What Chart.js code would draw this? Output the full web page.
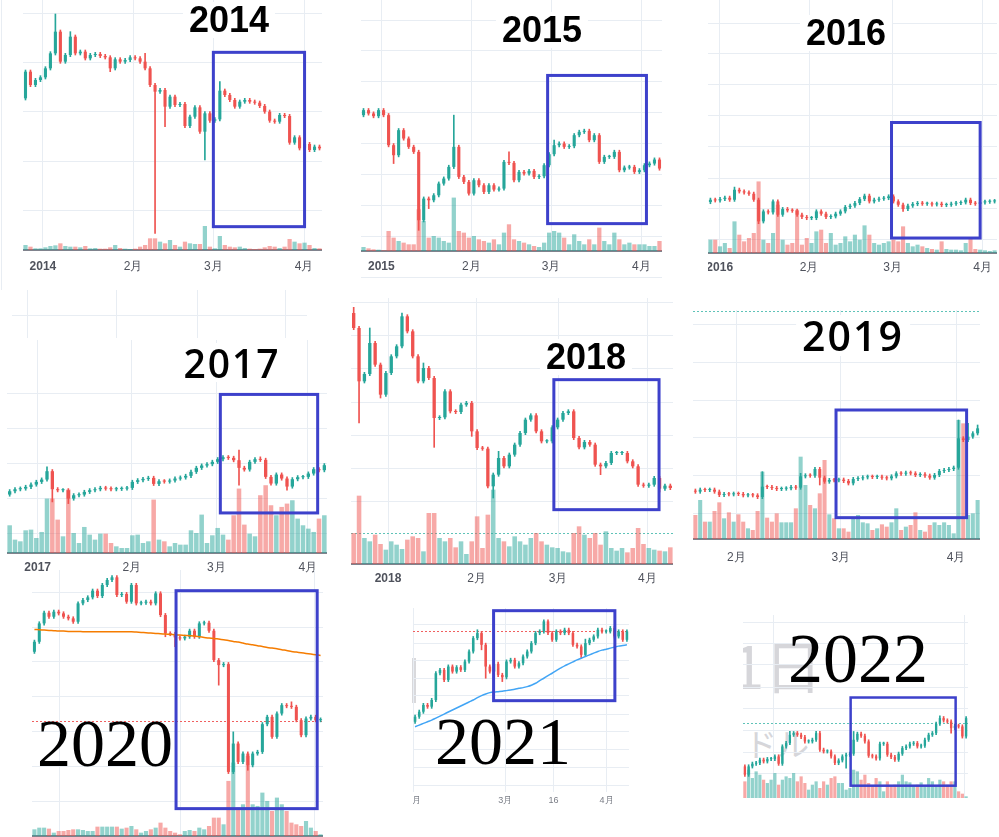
<!DOCTYPE html>
<html>
<head>
<meta charset="utf-8">
<script src="https://cdn.jsdelivr.net/npm/chart.js"></script>
<style>
html, body { margin: 0; padding: 0; background: #fff; }
body { position: relative; width: 999px; height: 837px; overflow: hidden; }
canvas { position: absolute; }
.ttl { position: absolute; white-space: nowrap; transform: translateX(-50%); color: #000; }
.sans { font: bold 36px/1 "Liberation Sans", Arial, sans-serif; background: #fff; padding: 0 6px; }
.round { font: 600 39px/1 "Open Sans", sans-serif; letter-spacing: 2px; background: #fff; padding: 0 6px; }
.serif { font: 68px/1 "Liberation Serif", serif; }
.clip { position: absolute; overflow: hidden; }
.wm { position: absolute; white-space: nowrap; line-height: 1; font-family: "Noto Sans CJK JP", sans-serif; color: #d6d6da; }
.ln { position: absolute; background: #e8edf3; }
</style>
</head>
<body>
<div class="ln" style="left:1px;top:0px;width:1px;height:290px"></div>
<div class="ln" style="left:361px;top:277px;width:301px;height:1px"></div>
<div class="ln" style="left:12px;top:315px;width:295px;height:1px"></div>
<div class="ln" style="left:27px;top:290px;width:1px;height:48px"></div>
<div class="ln" style="left:116px;top:290px;width:1px;height:48px"></div>
<div class="ln" style="left:197px;top:290px;width:1px;height:48px"></div>
<div class="ln" style="left:285px;top:290px;width:1px;height:48px"></div>
<div class="clip" style="left:743px;top:615px;width:225px;height:183px">
  <div class="wm" style="left:-11px;top:20px;font-size:58px">1日</div>
  <div class="wm" style="left:2px;top:111px;font-size:32px">ドル</div>
</div>
<div style="position:absolute;left:412px;top:658px;width:4px;height:45px;background:#d9d9dc"></div>
<script>
// ---- 2014 ----
const open14 = 505;
const close14 = [585,545,560,568,595,640,705,615,635,690,640,645,625,635,638,632,628,595,622,615,
  620,628,625,615,595,545,525,530,480,510,485,488,422,450,478,405,460,438,442,528,
  515,500,480,495,500,495,492,482,465,438,435,455,452,372,388,355,368,350,360,355];
const vol14 = [15,10,5,5,8,12,14,20,12,10,10,8,12,5,6,4,4,8,15,6,
  4,3,4,10,15,35,35,25,20,30,15,10,25,20,18,18,72,10,5,42,
  15,10,8,10,6,4,3,4,8,12,10,6,10,33,25,20,22,15,6,5];
const hi14 = [[6,758],[9,705],[24,640],[39,555]];
const lo14 = [[26,100],[36,320],[28,420],[17,585]];
const grid14 = [760,613,465,317,168];
const months14 = ['2014','2月','3月','4月'];
const monthAt14 = [3.5,21.6,37.7,55.9];
const box14 = [37.7,56.0,643,120];

// ---- 2015 ----
const open15 = 455;
const close15 = [470,460,452,470,455,365,335,410,385,360,345,140,205,200,215,250,265,300,360,270,
  255,220,260,245,225,245,232,235,315,312,260,285,280,288,270,272,305,338,365,370,
  360,362,395,405,408,380,395,315,330,330,345,290,298,300,285,290,305,310,322,295];
const vol15 = [12,8,5,4,2,60,40,30,25,20,20,125,90,40,45,40,30,25,160,60,
  55,40,45,35,30,25,35,20,55,80,35,30,25,20,15,12,25,55,60,55,
  40,20,50,30,20,35,20,70,30,20,55,35,20,25,20,20,20,15,15,30];
const hi15 = [[18,455],[29,345],[38,380]];
const lo15 = [[11,110],[12,170],[6,310],[13,175]];
const grid15 = [740,648,555,462,370,278,185,92];
const months15 = ['2015','2月','3月','4月'];
const monthAt15 = [3.55,21.5,37.4,55.4];
const box15 = [36.7,56.4,574,130];

// ---- 2016 ----
const open16 = 193;
const close16 = [200,198,202,206,200,230,225,222,218,200,135,165,162,195,155,172,168,167,155,148,
  145,145,165,158,148,150,158,165,178,182,190,202,212,195,200,203,205,210,195,185,
  172,182,187,190,188,188,186,188,184,185,188,190,192,200,190,188,192,194,195,196];
const vol16 = [40,40,20,30,15,95,55,35,45,60,215,40,30,60,145,40,25,30,130,25,
  45,30,65,70,30,60,25,30,50,35,55,40,83,55,30,25,30,35,40,35,
  80,30,20,25,20,15,12,10,35,12,10,10,8,30,45,12,10,8,6,8];
const hi16 = [[5,238],[9,205]];
const lo16 = [[10,128],[40,165],[14,150]];
const grid16 = [730,638,545,452,360,265,175,82];
const months16 = ['2016','2月','3月','4月'];
const monthAt16 = [1.93,20.5,37.8,56.5];
const box16 = [37.6,56.0,432,85];

// ---- 2017 ----
const open17 = 272;
const close17 = [282,288,290,295,302,310,317,342,288,285,285,260,270,272,280,285,288,292,290,288,
  289,290,292,310,315,319,322,304,312,311,314,320,323,328,340,352,359,363,370,378,
  384,382,375,352,347,370,378,376,325,305,332,320,296,318,324,325,335,348,345,360];
const vol17 = [83,40,35,68,70,45,63,163,163,100,50,190,60,30,78,55,40,58,58,30,
  20,15,15,53,55,30,35,160,40,35,20,30,25,25,68,60,115,30,53,75,
  55,40,113,193,85,58,50,173,203,143,113,138,148,158,103,83,73,63,103,113];
const hi17 = [[7,355],[43,405],[47,385]];
const lo17 = [[8,250],[11,245],[43,300],[52,285]];
const grid17 = [575,470,365,260,155];
const months17 = ['2017','2月','3月','4月'];
const monthAt17 = [5.25,22.9,38.75,55.9];
const box17 = [39.5,57.75,572,217];

// ---- 2018 ----
const open18 = 815;
const close18 = [770,610,632,725,660,570,635,685,715,805,760,685,610,650,620,500,502,580,520,518,
  540,545,460,410,408,295,330,380,355,390,420,455,495,508,460,430,430,472,495,515,
  520,440,412,428,420,360,355,365,395,395,395,370,355,300,297,300,320,288,297,290];
const vol18 = [93,205,78,68,88,60,43,68,58,45,73,83,78,38,153,153,78,68,78,50,
  68,30,68,143,48,148,223,78,68,53,83,68,58,78,93,68,58,50,48,38,
  35,93,113,88,78,93,58,98,48,40,48,35,48,108,60,48,43,40,38,50];
const hi18 = [[0,832],[3,770],[9,815],[27,400],[13,665]];
const lo18 = [[1,485],[5,560],[15,412],[26,260],[22,445],[46,330],[57,278]];
const grid18 = [848,748,648,548,448,350,250];
const months18 = ['2018','2月','3月','4月'];
const monthAt18 = [6.4,22.9,38.1,54.7];
const box18 = [37.3,56.9,615,225];
const level18 = 155;

// ---- 2019 ----
const open19 = 283;
const close19 = [280,286,285,286,280,270,273,272,274,273,269,270,269,264,295,294,291,288,289,290,
  294,292,326,329,328,348,322,310,315,314,316,312,305,318,320,323,325,324,325,322,
  320,326,335,334,337,335,330,332,328,322,330,342,345,348,352,440,435,445,455,470];
const vol19 = [72,117,52,52,84,110,62,80,52,74,52,32,27,84,202,64,52,77,50,50,
  50,92,247,162,102,92,137,237,74,62,32,32,22,62,72,50,47,27,32,44,
  37,50,92,27,37,42,80,27,22,42,50,42,50,42,17,357,347,72,77,117];
const hi19 = [[14,340],[55,495],[57,485],[59,480],[22,335]];
const lo19 = [[26,300]];
const grid19 = [782,668,555,442,328,215];
const months19 = ['2月','3月','4月'];
const monthAt19 = [8.57,30.4,54.5];
const box19 = [29.4,56.7,525,202];
const level19 = 822;

// ---- 2020 ----
const open20 = 655;
const close20 = [685,740,772,760,775,770,760,755,745,800,810,818,838,822,855,870,878,825,828,805,
  855,800,802,805,800,830,765,710,708,698,695,700,718,700,740,742,718,630,615,618,
  295,380,325,350,315,350,355,438,460,400,470,495,492,490,450,405,455,460,450,452];
const vol20 = [20,25,25,22,10,15,15,18,20,20,18,15,15,28,28,28,28,28,22,25,
  30,20,10,15,20,25,40,25,15,10,5,15,18,15,25,20,30,55,55,35,
  165,220,85,95,240,95,90,130,105,75,115,95,75,40,35,30,45,25,15,5];
const ma20 = [722,721,720,719,718,717,717,716,716,716,715,715,715,715,715,715,715,715,715,715,
  715,714,713,712,711,710,709,708,707,706,705,704,703,702,700,698,696,695,693,691,
  689,686,684,681,678,676,673,671,668,666,664,661,659,656,654,652,650,648,646,644];
const hi20 = [[17,845],[26,780],[41,415],[48,465],[53,505]];
const lo20 = [[0,650],[27,700],[29,670],[38,555],[44,300]];
const grid20 = [832,728,625,520,415,310,205];
const months20 = ['2月','3月','4月'];
const monthAt20 = [5.2,30.2,57.8];
const box20 = [29.2,58.3,838,185];
const level20 = 448;

// ---- 2021 ----
const open21 = 305;
const close21 = [320,335,355,350,370,450,460,430,470,455,468,460,485,515,555,570,535,470,455,478,
  445,438,485,490,470,480,500,515,540,570,575,605,570,550,575,570,580,570,535,530,
  505,540,550,560,580,575,575,585,560,575,550,575];
const ma21 = [290,295,300,305,310,316,322,328,334,340,346,352,358,364,370,377,383,388,392,394,
  395,396,398,400,402,405,407,410,414,420,428,435,443,450,458,465,472,478,484,490,
  495,500,505,510,515,519,522,525,528,531,533,535];
const hi21 = [[15,580],[41,552]];
const lo21 = [[17,435],[21,425],[16,520],[40,495]];
const grid21 = [595,540,487,435,382,328,275,222,168,115];
const months21 = ['2月','3月','16','4月'];
const monthAt21 = [-0.34,21.7,33.3,46.1];
const box21 = [18.9,48.1,637,368];
const level21 = 575;

// ---- 2022 ----
const open22 = 200;
const close22 = [175,200,208,210,220,215,222,222,230,208,260,270,295,300,295,288,275,275,280,300,
  250,245,245,230,210,218,230,235,238,280,298,292,275,232,230,224,268,268,235,228,
  220,238,255,260,268,270,260,262,280,295,300,328,345,338,335,315,322,320,290,345];
const vol22 = [50,85,60,80,70,55,45,55,75,40,55,65,60,75,50,65,45,25,40,50,
  30,50,40,60,65,45,45,25,30,85,80,55,70,45,35,60,50,20,50,35,
  40,50,70,50,47,35,40,47,35,60,50,35,55,50,40,50,50,20,13,5];
const hi22 = [[12,305],[29,305],[52,352]];
const lo22 = [[1,180],[27,195],[55,300]];
const grid22 = [632,570,505,438,375,307,242,178];
const months22 = ['',''];
const monthAt22 = [7.5,58.6];
const box22 = [28.2,56.2,407,142];
const level22 = 330;

const UP = '#26a69a', DOWN = '#ef5350';
const UP_V = 'rgba(38,166,154,0.5)', DOWN_V = 'rgba(239,83,80,0.5)';
const GRID = '#e8edf3';
const BOX = '#3d41cb';

function candles(close, open0, hi, lo, pad) {
    const hiMap = new Map(hi), loMap = new Map(lo);
    return close.map((c, i) => {
        const o = i === 0 ? open0 : close[i - 1];
        const top = Math.max(o, c), bot = Math.min(o, c);
        return {
            i, top, bot, up: c >= o,
            h: Math.max(top + pad, hiMap.has(i) ? hiMap.get(i) : 0),
            l: Math.min(bot - pad, loMap.has(i) ? loMap.get(i) : Infinity)
        };
    });
}

function panel(p) {
    const cv = document.createElement('canvas');
    cv.width = p.w;
    cv.height = p.h + p.axisH;
    cv.style.left = p.left + 'px';
    cv.style.top = p.top + 'px';
    document.body.appendChild(cv);

    const k = candles(p.close, p.open, p.hi, p.lo, p.pad || 5);
    const n = p.close.length;
    const datasets = [{
        data: k.map(d => ({ x: d.i, y: [d.bot, d.top] })),
        backgroundColor: k.map(d => d.up ? UP : DOWN),
        barPercentage: 0.62, categoryPercentage: 1, grouped: false,
        minBarLength: 1, order: 1, yAxisID: 'y'
    }, {
        data: k.map(d => ({ x: d.i, y: [d.l, d.h] })),
        backgroundColor: k.map(d => d.up ? UP : DOWN),
        barThickness: 1, grouped: false, order: 2, yAxisID: 'y'
    }];
    if (p.vol) {
        datasets.push({
            data: p.vol.map((v, i) => ({ x: i, y: v })),
            backgroundColor: k.map(d => d.up ? UP_V : DOWN_V),
            barPercentage: 0.85, categoryPercentage: 1, grouped: false,
            order: 5, yAxisID: 'v'
        });
    }
    if (p.ma) {
        datasets.push({
            type: 'line',
            data: p.ma.map((v, i) => ({ x: i, y: v })),
            borderColor: p.maColor, borderWidth: 1.5, pointRadius: 0,
            tension: 0.3, order: 0, yAxisID: 'y'
        });
    }

    const overlay = {
        id: 'overlay',
        beforeDatasetsDraw(chart) {
            if (p.level === undefined) return;
            const { ctx, chartArea: a, scales } = chart;
            const y = Math.round(scales.y.getPixelForValue(p.level)) + 0.5;
            ctx.save();
            ctx.strokeStyle = p.levelColor;
            ctx.lineWidth = 1;
            ctx.setLineDash([2, 2]);
            ctx.beginPath();
            ctx.moveTo(a.left, y);
            ctx.lineTo(a.right, y);
            ctx.stroke();
            ctx.restore();
        },
        afterDatasetsDraw(chart) {
            const { ctx, scales } = chart;
            const [x0, x1, yTop, yBot] = p.box;
            const l = scales.x.getPixelForValue(x0), r = scales.x.getPixelForValue(x1);
            const t = scales.y.getPixelForValue(yTop), b = scales.y.getPixelForValue(yBot);
            ctx.save();
            ctx.strokeStyle = BOX;
            ctx.lineWidth = p.boxW || 3;
            ctx.strokeRect(l, t, r - l, b - t);
            ctx.restore();
        }
    };

    new Chart(cv, {
        type: 'bar',
        data: { datasets },
        plugins: [overlay],
        options: {
            responsive: false,
            animation: false,
            events: [],
            layout: { padding: 0 },
            plugins: { legend: { display: false }, tooltip: { enabled: false } },
            scales: {
                x: {
                    type: 'linear', min: -0.5, max: n - 0.5, offset: false,
                    afterBuildTicks: s => { s.ticks = p.monthAt.map((v, j) => ({ value: v, major: j === 0 && !!p.yearFirst })); },
                    afterFit: s => { s.height = p.axisH; s.paddingLeft = 0; s.paddingRight = 0; },
                    grid: { color: GRID, drawTicks: false, offset: false },
                    border: { display: p.border !== false, color: '#80838d', width: 2 },
                    ticks: {
                        display: p.showLabels !== false,
                        autoSkip: false, maxRotation: 0, padding: p.lblPad || 7,
                        color: p.lblColor || '#4f525c',
                        callback: (v, j) => p.months[j],
                        font: c => ({
                            family: '"Liberation Sans", Arial, sans-serif',
                            size: p.lblSize || 12,
                            weight: c.tick && c.tick.major ? 'bold' : 'normal'
                        })
                    }
                },
                y: {
                    axis: 'y', position: 'left',
                    min: p.yMin, max: p.yMax,
                    afterBuildTicks: s => { s.ticks = p.grid.map(v => ({ value: v })); },
                    afterFit: s => { s.width = 0; },
                    ticks: { display: false },
                    grid: { color: GRID, drawTicks: false },
                    border: { display: false }
                },
                v: { axis: 'y', position: 'right', display: false, min: 0, max: p.volMax || 1 }
            }
        }
    });
}

[
    { left: 23, top: 0, w: 299, h: 250, axisH: 30, lblPad: 9, open: open14, close: close14, vol: vol14, hi: hi14, lo: lo14,
      yMin: 50, yMax: 800, grid: grid14, volMax: 750, months: months14, monthAt: monthAt14, yearFirst: true, box: box14 },
    { left: 361, top: 0, w: 301, h: 251, axisH: 30, lblPad: 8, open: open15, close: close15, vol: vol15, hi: hi15, lo: lo15,
      yMin: 48, yMax: 800, grid: grid15, volMax: 752, months: months15, monthAt: monthAt15, yearFirst: true, box: box15 },
    { left: 708, top: 0, w: 289, h: 253, axisH: 30, lblPad: 7, open: open16, close: close16, vol: vol16, hi: hi16, lo: lo16,
      yMin: 40, yMax: 800, grid: grid16, volMax: 760, months: months16, monthAt: monthAt16, yearFirst: true, box: box16 },
    { left: 7, top: 340, w: 320, h: 213, axisH: 28, lblPad: 7, open: open17, close: close17, vol: vol17, hi: hi17, lo: lo17,
      yMin: 97, yMax: 735, grid: grid17, volMax: 638, months: months17, monthAt: monthAt17, yearFirst: true, box: box17 },
    { left: 351, top: 298, w: 322, h: 266, axisH: 28, lblPad: 7, open: open18, close: close18, vol: vol18, hi: hi18, lo: lo18,
      yMin: 62, yMax: 860, grid: grid18, volMax: 798, months: months18, monthAt: monthAt18, yearFirst: true, box: box18,
      level: level18, levelColor: '#5fc3b8' },
    { left: 693, top: 310, w: 287, h: 229, axisH: 30, lblPad: 11, open: open19, close: close19, vol: vol19, hi: hi19, lo: lo19,
      yMin: 138, yMax: 825, grid: grid19, volMax: 687, months: months19, monthAt: monthAt19, box: box19,
      level: level19, levelColor: '#5fc3b8' },
    { left: 32, top: 570, w: 291, h: 266, axisH: 20, showLabels: false, open: open20, close: close20, vol: vol20, hi: hi20, lo: lo20,
      yMin: 103, yMax: 900, grid: grid20, volMax: 797, months: months20, monthAt: monthAt20, box: box20,
      ma: ma20, maColor: '#f57c00', level: level20, levelColor: '#f06060' },
    { left: 413, top: 608, w: 216, h: 184, axisH: 16, lblPad: 3, lblSize: 9, lblColor: '#7a7d86', border: false,
      open: open21, close: close21, hi: hi21, lo: lo21,
      yMin: 95, yMax: 645, grid: grid21, months: months21, monthAt: monthAt21, box: box21,
      ma: ma21, maColor: '#42a5f5', level: level21, levelColor: '#f06060' },
    { left: 743, top: 615, w: 225, h: 183, axisH: 4, showLabels: false, border: false,
      open: open22, close: close22, vol: vol22, hi: hi22, lo: lo22,
      yMin: 105, yMax: 655, grid: grid22, volMax: 550, months: months22, monthAt: monthAt22, box: box22, boxW: 2.5,
      level: level22, levelColor: '#5fc3b8' }
].forEach(panel);
</script>
<div class="ttl sans" style="left:229px;top:2px">2014</div>
<div class="ttl sans" style="left:542px;top:12px">2015</div>
<div class="ttl sans" style="left:846px;top:15px">2016</div>
<div class="ttl round" style="left:232px;top:343px">2017</div>
<div class="ttl sans" style="left:586px;top:339px">2018</div>
<div class="ttl round" style="left:853px;top:315px;font-size:41px">2019</div>
<div class="ttl serif" style="left:105px;top:709px">2020</div>
<div class="ttl serif" style="left:503px;top:707px">2021</div>
<div class="ttl serif" style="left:858px;top:624px;font-size:70px">2022</div>
</body>
</html>
